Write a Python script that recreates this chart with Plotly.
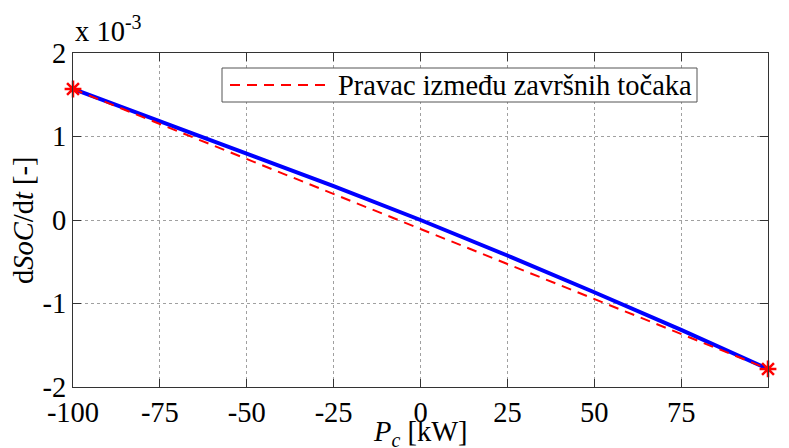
import plotly.graph_objects as go

# Data (dSoC/dt in units of 1e-3)
pc_kw = [-100, -75, -50, -25, 0, 25, 50, 75, 100]
dsoc_dt = [1.569, 1.185, 0.795, 0.405, 0.0, -0.425, -0.865, -1.315, -1.784]
x_ticks = [-100, -75, -50, -25, 0, 25, 50, 75, 100]
y_ticks = [-2, -1, 0, 1, 2]
legend_label = "Pravac između završnih točaka"

FONT = "'Liberation Serif', 'Times New Roman', 'DejaVu Serif', serif"
FS = 28.5

end_x = [pc_kw[0], pc_kw[-1]]
end_y = [dsoc_dt[0], dsoc_dt[-1]]

fig = go.Figure()
fig.add_trace(go.Scatter(x=pc_kw, y=dsoc_dt, mode="lines", line=dict(color="#0000ff", width=4),
                         showlegend=False, name="dSoC/dt"))
fig.add_trace(go.Scatter(x=end_x, y=end_y, mode="lines",
                         line=dict(color="#ff0000", width=2, dash="10px,7px"),
                         showlegend=False, name=legend_label))
fig.add_trace(go.Scatter(x=end_x, y=end_y, mode="markers",
                         marker=dict(symbol="asterisk-open", size=14, color="#ff0000",
                                     line=dict(color="#ff0000", width=2.5)),
                         showlegend=False, cliponaxis=False))

axis_common = dict(showline=True, linecolor="#333333", linewidth=1, mirror="ticks",
                   ticks="inside", ticklen=8, tickcolor="#333333",
                   showgrid=True, gridcolor="#a0a0a0", griddash="dot", gridwidth=1,
                   zeroline=False, tickfont=dict(family=FONT, size=FS, color="black"))

fig.update_xaxes(range=[-100, 100], tickvals=x_ticks, ticktext=[str(v) for v in x_ticks], **axis_common)
fig.update_yaxes(range=[-2, 2], tickvals=y_ticks, ticktext=[str(v) for v in y_ticks], **axis_common)

# manual legend (paper coords); plot area spans 73..768 x 53..387 in page pixels
PW, PH = 695, 334
lx0, lx1 = (222 - 73) / PW, (697 - 73) / PW
ly1, ly0 = 1 - (68 - 53) / PH, 1 - (102 - 53) / PH
fig.add_shape(type="rect", xref="paper", yref="paper", x0=lx0, x1=lx1, y0=ly0, y1=ly1,
              line=dict(color="#555555", width=1), fillcolor="white", layer="above")
ymid = (ly0 + ly1) / 2
fig.add_shape(type="line", xref="paper", yref="paper", x0=(230 - 73) / PW, x1=(326 - 73) / PW,
              y0=ymid, y1=ymid, line=dict(color="#ff0000", width=2, dash="10px,7px"), layer="above")

# page body has an 8px margin, so the figure is offset by 8px (left/top)
fig.update_layout(
    width=781, height=440,
    margin=dict(l=65, r=21, t=45, b=61),
    paper_bgcolor="white", plot_bgcolor="white",
    font=dict(family=FONT, size=FS, color="black"),
    showlegend=False,
    annotations=[
        dict(text=legend_label, xref="paper", yref="paper", x=(336 - 73) / PW, y=ymid,
             xanchor="left", yanchor="middle", showarrow=False, font=dict(family=FONT, size=FS)),
        dict(text="x 10<sup>-3</sup>", xref="paper", yref="paper", x=0.0, y=1.0, yshift=4,
             xanchor="left", yanchor="bottom", showarrow=False, font=dict(family=FONT, size=FS)),
        dict(text="d<i>SoC</i>/d<i>t</i> [-]", xref="paper", yref="paper", x=-0.072, y=0.5,
             xanchor="center", yanchor="middle", textangle=-90, showarrow=False,
             font=dict(family=FONT, size=FS)),
        dict(text="<i>P<sub>c</sub></i> [kW]", xref="paper", yref="paper", x=(420 - 73) / PW,
             y=-(414 - 387) / PH, xanchor="center", yanchor="top", showarrow=False,
             font=dict(family=FONT, size=FS)),
    ],
)

fig.write_html("out.html")
